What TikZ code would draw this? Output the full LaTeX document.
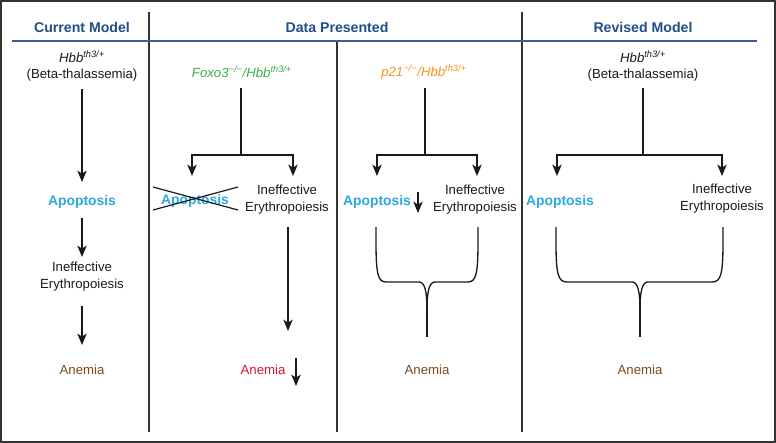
\documentclass[tikz,border=0pt]{standalone}
\usepackage{fontspec}
\setmainfont{Liberation Sans}
\usetikzlibrary{arrows.meta}
\definecolor{titleblue}{HTML}{1F4E89}
\definecolor{apoblue}{HTML}{29A9E1}
\definecolor{foxgreen}{HTML}{3DAE49}
\definecolor{porange}{HTML}{F7941D}
\definecolor{anered}{HTML}{D2143A}
\definecolor{anebrown}{HTML}{7A4A1E}
\definecolor{framegray}{HTML}{333333}
\definecolor{inkc}{HTML}{1A1A1A}
\begin{document}
\begin{tikzpicture}[x=0.75pt,y=-0.75pt,
  title/.style={font=\fontsize{10.6}{12}\selectfont\bfseries, text=titleblue, inner sep=0},
  txt/.style={font=\fontsize{9.9}{12.75}\selectfont, align=center, inner sep=0, text=inkc},
  apo/.style={font=\fontsize{10.4}{12}\selectfont\bfseries, text=apoblue, inner sep=0},
  ane/.style={txt, text=anebrown},
  arr/.style={line width=1pt, draw=inkc, -{Stealth[length=8.5pt,width=7pt,inset=2.2pt]}},
  conn/.style={line width=1pt, draw=inkc},
  sep/.style={line width=1.2pt, draw=framegray}]
\useasboundingbox (0,0) rectangle (776,443);
\draw[line width=1.5pt, draw=framegray] (0.75,0.75) rectangle (775.25,442.25);
% separators
\coordinate (s1t) at (149,12); \coordinate (s1b) at (149,432);
\coordinate (s2t) at (522,12); \coordinate (s2b) at (522,432);
\coordinate (s3t) at (337,41); \coordinate (s3b) at (337,432);
\coordinate (hl) at (12,41); \coordinate (hr) at (757,41);
\draw[sep] (s1t) -- (s1b);
\draw[sep] (s2t) -- (s2b);
\draw[sep] (s3t) -- (s3b);
\draw[line width=1.2pt, draw=titleblue!90] (hl) -- (hr);
% titles
\node[title] (t1) at (82,27) {Current Model};
\node[title] (t2) at (337,27) {Data Presented};
\node[title] (t3) at (643,27) {Revised Model};
% ---------- column 1
\node[txt] (h1) at (82,57) {\textit{Hbb}\textsuperscript{\textit{th3/+}}};
\node[txt] (b1) at (82,75) {(Beta-thalassemia)};
\node[apo] (ap1) at (82,202) {Apoptosis};
\node[txt] (ie1) at (82,277) {Ineffective\\Erythropoiesis};
\node[ane] (an1) at (82,370) {Anemia};
\coordinate (c1a) at (82,89); \coordinate (c1b) at (82,182);
\coordinate (c1c) at (82,218); \coordinate (c1d) at (82,257);
\coordinate (c1e) at (82,306); \coordinate (c1f) at (82,345);
\draw[arr] (c1a) -- (c1b);
\draw[arr] (c1c) -- (c1d);
\draw[arr] (c1e) -- (c1f);
% ---------- column 2
\node[txt, text=foxgreen] (f2) at (242,72) {\textit{Foxo3\textsuperscript{−/−}/Hbb\textsuperscript{th3/+}}};
\coordinate (c2a) at (241,88); \coordinate (c2m) at (241,155);
\coordinate (c2l) at (192,176); \coordinate (c2r) at (293,176);
\draw[conn] (c2a) -- (c2m);
\draw[arr] (c2m) -| (c2l);
\draw[arr] (c2m) -| (c2r);
\node[apo] (ap2) at (195,201) {Apoptosis};
\coordinate (x1) at (153,187); \coordinate (x2) at (238,210);
\coordinate (x3) at (153,210); \coordinate (x4) at (238,187);
\draw[line width=0.9pt, draw=inkc] (x1) -- (x2);
\draw[line width=0.9pt, draw=inkc] (x3) -- (x4);
\node[txt] (ie2) at (287,200) {Ineffective\\Erythropoiesis};
\coordinate (c2c) at (288,227); \coordinate (c2d) at (288,331);
\draw[arr] (c2c) -- (c2d);
\node[txt, text=anered] (an2) at (263,370) {Anemia};
\coordinate (c2e) at (296,358); \coordinate (c2f) at (296,386);
\draw[arr] (c2e) -- (c2f);
% ---------- column 3
\node[txt, text=porange] (p3) at (424,72) {\textit{p21\textsuperscript{−/−}/Hbb\textsuperscript{th3/+}}};
\coordinate (c3a) at (425,88); \coordinate (c3m) at (425,155);
\coordinate (c3l) at (377,176); \coordinate (c3r) at (477,176);
\draw[conn] (c3a) -- (c3m);
\draw[arr] (c3m) -| (c3l);
\draw[arr] (c3m) -| (c3r);
\node[apo] (ap3) at (377,202) {Apoptosis};
\coordinate (c3s) at (418,192); \coordinate (c3t) at (418,213);
\draw[arr] (c3s) -- (c3t);
\node[txt] (ie3) at (475,200) {Ineffective\\Erythropoiesis};
\coordinate (b3l) at (376,227); \coordinate (b3r) at (478,227); \coordinate (b3p) at (427,337);
\draw[conn] (b3l) -- (376,242) .. controls (376,274) and (378,282) .. (386,282) -- (419,282) .. controls (425,282) and (427,292) .. (427,310);
\draw[conn] (b3r) -- (478,242) .. controls (478,274) and (476,282) .. (468,282) -- (435,282) .. controls (429,282) and (427,292) .. (427,310);
\draw[conn] (427,305) -- (b3p);
\node[ane] (an3) at (427,370) {Anemia};
% ---------- column 4
\node[txt] (h4) at (643,57) {\textit{Hbb}\textsuperscript{\textit{th3/+}}};
\node[txt] (b4) at (643,75) {(Beta-thalassemia)};
\coordinate (c4a) at (643,88); \coordinate (c4m) at (643,155);
\coordinate (c4l) at (557,176); \coordinate (c4r) at (722,176);
\draw[conn] (c4a) -- (c4m);
\draw[arr] (c4m) -| (c4l);
\draw[arr] (c4m) -| (c4r);
\node[apo] (ap4) at (560,202) {Apoptosis};
\node[txt] (ie4) at (722,199) {Ineffective\\Erythropoiesis};
\coordinate (b4l) at (556,227); \coordinate (b4r) at (723,227); \coordinate (b4p) at (640,337);
\draw[conn] (b4l) -- (556,242) .. controls (556,274) and (558,282) .. (567,282) -- (632,282) .. controls (638,282) and (640,292) .. (640,310);
\draw[conn] (b4r) -- (723,242) .. controls (723,274) and (721,282) .. (712,282) -- (648,282) .. controls (642,282) and (640,292) .. (640,310);
\draw[conn] (640,305) -- (b4p);
\node[ane] (an4) at (640,370) {Anemia};
\end{tikzpicture}
\end{document}
